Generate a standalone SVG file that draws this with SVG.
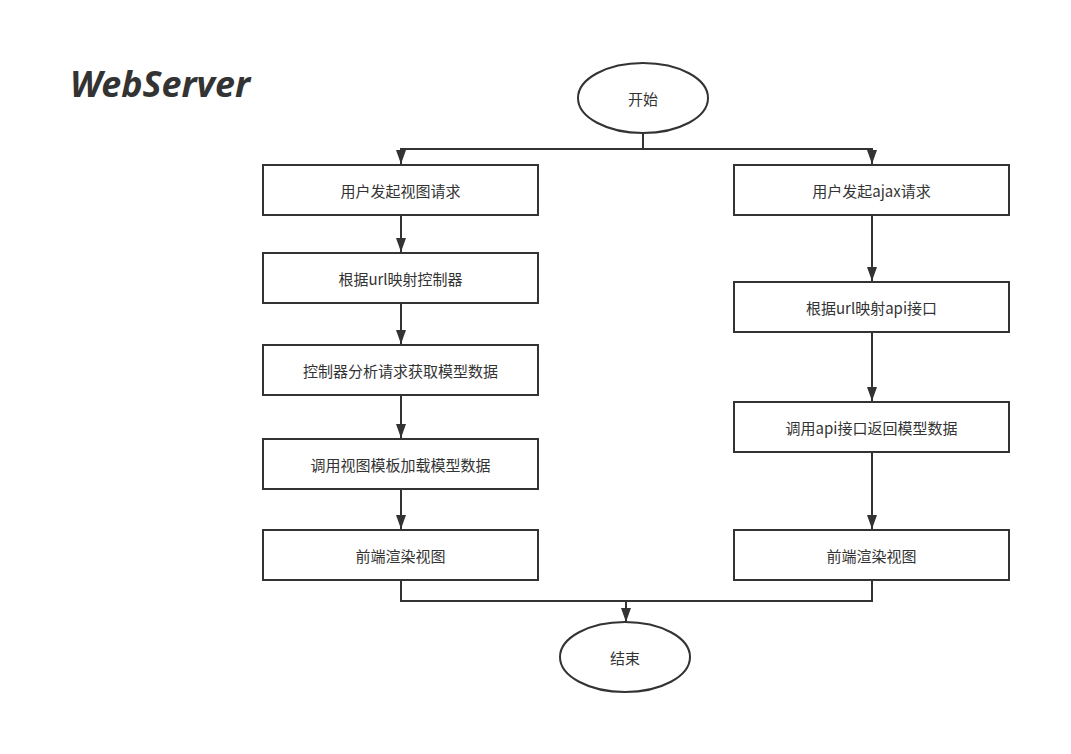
<svg xmlns="http://www.w3.org/2000/svg" width="1071" height="754" viewBox="0 0 1071 754">
<defs>
<marker id="arr" markerUnits="userSpaceOnUse" markerWidth="14" markerHeight="12" viewBox="0 0 14 12" refX="14" refY="6" orient="auto">
<path d="M0,1 L14,6 L0,11 Z" fill="#333"/>
</marker>
<style>
.box{fill:#fff;stroke:#333;stroke-width:2}
.t{font-family:"Noto Sans CJK SC","Noto Sans",sans-serif;font-size:15px;fill:#333;text-anchor:middle;dominant-baseline:central}
.c{fill:none;stroke:#333;stroke-width:2}
</style>
</defs>
<rect width="1071" height="754" fill="#fff"/>
<text x="70" y="97" font-family="'Noto Sans','DejaVu Sans',sans-serif" font-size="35" font-weight="bold" font-style="italic" fill="#333" textLength="180" lengthAdjust="spacingAndGlyphs">WebServer</text>
<g id="connectors">
<path class="c" d="M643,133 V149 H401 V164" marker-end="url(#arr)"/>
<path class="c" d="M643,149 H872 V164" marker-end="url(#arr)"/>
<path class="c" d="M401,216 V252" marker-end="url(#arr)"/>
<path class="c" d="M401,304 V344" marker-end="url(#arr)"/>
<path class="c" d="M401,396 V438" marker-end="url(#arr)"/>
<path class="c" d="M401,490 V529" marker-end="url(#arr)"/>
<path class="c" d="M872,216 V281" marker-end="url(#arr)"/>
<path class="c" d="M872,333 V401" marker-end="url(#arr)"/>
<path class="c" d="M872,453 V529" marker-end="url(#arr)"/>
<path class="c" d="M401,581 V601 H872 V581"/>
<path class="c" d="M626,601 V622" marker-end="url(#arr)"/>
</g>
<g id="start"><ellipse class="box" cx="643" cy="98" rx="65" ry="35"/><text class="t" x="643" y="98">开始</text></g>
<g id="l1"><rect class="box" x="263" y="165" width="275" height="50"/><text class="t" x="400.5" y="190">用户发起视图请求</text></g>
<g id="l2"><rect class="box" x="263" y="253" width="275" height="50"/><text class="t" x="400.5" y="278">根据url映射控制器</text></g>
<g id="l3"><rect class="box" x="263" y="345" width="275" height="50"/><text class="t" x="400.5" y="370">控制器分析请求获取模型数据</text></g>
<g id="l4"><rect class="box" x="263" y="439" width="275" height="50"/><text class="t" x="400.5" y="464">调用视图模板加载模型数据</text></g>
<g id="l5"><rect class="box" x="263" y="530" width="275" height="50"/><text class="t" x="400.5" y="555">前端渲染视图</text></g>
<g id="r1"><rect class="box" x="734" y="165" width="275" height="50"/><text class="t" x="871.5" y="190">用户发起ajax请求</text></g>
<g id="r2"><rect class="box" x="734" y="282" width="275" height="50"/><text class="t" x="871.5" y="307">根据url映射api接口</text></g>
<g id="r3"><rect class="box" x="734" y="402" width="275" height="50"/><text class="t" x="871.5" y="427">调用api接口返回模型数据</text></g>
<g id="r4"><rect class="box" x="734" y="530" width="275" height="50"/><text class="t" x="871.5" y="555">前端渲染视图</text></g>
<g id="end"><ellipse class="box" cx="625" cy="657" rx="65" ry="35"/><text class="t" x="625" y="657">结束</text></g>
</svg>
